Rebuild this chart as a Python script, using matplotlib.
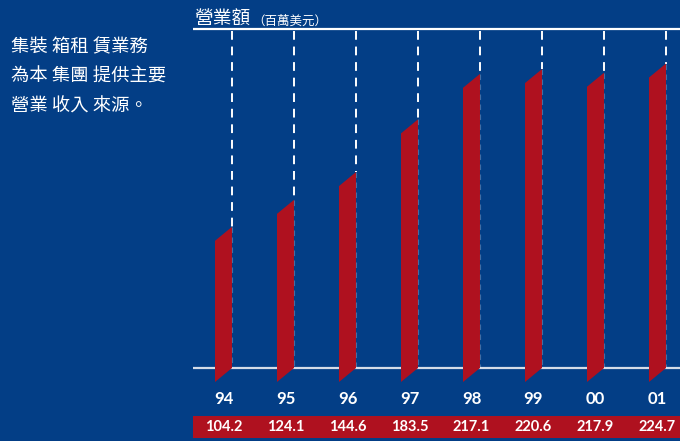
import matplotlib
matplotlib.use("Agg")
import matplotlib.pyplot as plt

years = ["94", "95", "96", "97", "98", "99", "00", "01"]
revenue = [104.2, 124.1, 144.6, 183.5, 217.1, 220.6, 217.9, 224.7]
value_labels = ["104.2", "124.1", "144.6", "183.5", "217.1", "220.6", "217.9", "224.7"]
side_lines = ["集裝 箱租 賃業務", "為本 集團 提供主要", "營業 收入 來源。"]
title_main = "營業額"
title_unit = "（百萬美元）"

BG = "#033E86"
RED = "#AF111F"
W, H = 680, 441
cjk = ["Noto Sans CJK TC", "DejaVu Sans"]

fig = plt.figure(figsize=(W / 100, H / 100), dpi=100, facecolor=BG)

ax = fig.add_axes([193 / W, 0, (680 - 193) / W, 1])
ax.set_facecolor(BG)
ax.axis("off")
pxu = 1.355
spacing = 62.0
x0 = 223.5
ax.set_xlim((193 - x0) / spacing, (680 - x0) / spacing)
ax.set_ylim(-(H - 368) / pxu, 368 / pxu)

hw = 8.5 / spacing
skew = 14 / pxu
top_line = (368 - 29) / pxu

ax.plot([-1, 8], [top_line, top_line], color="white", lw=1.6, solid_capstyle="butt")
ax.plot([-1, 8], [0, 0], color="#D5DCE8", lw=1.6, zorder=1)

for i, v in enumerate(revenue):
    xr = i + hw
    xl = i - hw
    ax.plot([xr, xr], [top_line - 1.5 / pxu, v], color="white", lw=1.4,
            dashes=(4.5, 3.5), zorder=1)
    ax.fill([xl, xr, xr, xl], [-skew, 0, v, v - skew], color=RED, lw=0, zorder=2)
    ax.plot([xr - 0.3 / spacing] * 2, [v, 0], color="white", lw=0.8, alpha=0.25,
            dashes=(5, 4), zorder=2.5)
    ax.text(i, -(399 - 368) / pxu, years[i], color="white", fontsize=12,
            fontweight="bold", family="Lato", ha="center", va="center")
    ax.text(i, -(427 - 368) / pxu, value_labels[i], color="white", fontsize=10.5,
            fontweight="bold", family="Lato", ha="center", va="center", zorder=4)

ax.fill([-1, 8, 8, -1], [-(416 - 368) / pxu] * 2 + [-(438 - 368) / pxu] * 2,
        color=RED, lw=0, zorder=3)

fig.text(194 / W, 1 - 19 / H, title_main, color="white", fontsize=13.5, family=cjk,
         ha="left", va="center")
fig.text(252 / W, 1 - 21 / H, title_unit, color="white", fontsize=9, family=cjk,
         ha="left", va="center")

for k, line in enumerate(side_lines):
    fig.text(11 / W, 1 - (47 + 30 * k) / H, line, color="white", fontsize=13.2,
             family=cjk, ha="left", va="center")

fig.savefig("out.png", dpi=100, facecolor=BG)
